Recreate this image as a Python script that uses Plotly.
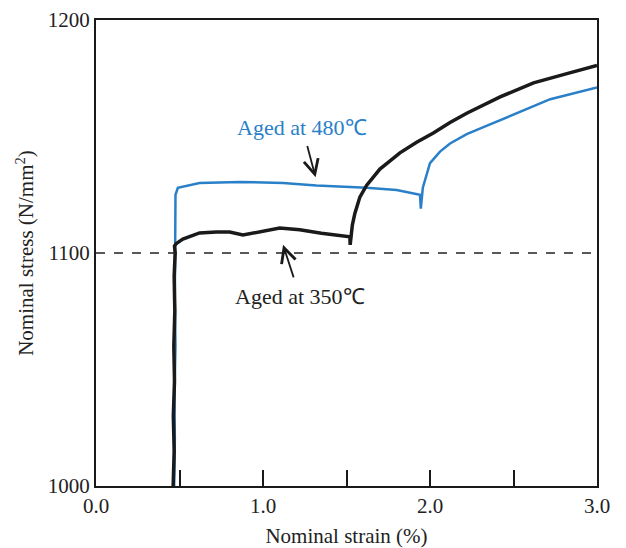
import plotly.graph_objects as go

# Aged at 350°C (black)
strain_350 = [0.462, 0.468, 0.463, 0.470, 0.466, 0.472, 0.468, 0.474, 0.470, 0.480,
              0.52, 0.62, 0.72, 0.80, 0.88, 1.00, 1.10, 1.22, 1.35, 1.52, 1.522,
              1.535, 1.55, 1.58, 1.62, 1.70, 1.82, 1.92, 2.02, 2.12, 2.22, 2.42,
              2.62, 2.82, 3.0]
stress_350 = [1000, 1015, 1030, 1045, 1060, 1075, 1090, 1100, 1103, 1104,
              1106, 1108.6, 1109, 1109, 1107.7, 1109.5, 1110.7, 1110, 1108.5, 1107,
              1103.5, 1112, 1117, 1124, 1129, 1136, 1143, 1147.5, 1151.5, 1156,
              1160, 1167, 1173, 1177, 1180.5]

# Aged at 480°C (blue)
strain_480 = [0.468, 0.472, 0.470, 0.476, 0.472, 0.474, 0.472, 0.476, 0.49,
              0.62, 0.86, 1.12, 1.32, 1.62, 1.80, 1.94, 1.945, 1.950, 1.957,
              2.0, 2.06, 2.12, 2.22, 2.32, 2.52, 2.72, 3.0]
stress_480 = [1000, 1020, 1040, 1060, 1080, 1100, 1115, 1125, 1128,
              1130, 1130.5, 1130, 1129, 1128, 1127, 1125, 1119, 1124, 1128,
              1138.6, 1143.5, 1147, 1151, 1154, 1160, 1166, 1171]

x_tickvals = [0.0, 1.0, 2.0, 3.0]
x_ticktext = ["0.0", "1.0", "2.0", "3.0"]
x_minor_tickvals = [0.5, 1.5, 2.5]
y_tickvals = [1000, 1100, 1200]
y_ticktext = ["1000", "1100", "1200"]

BLUE = "#2a80c8"
BLACK = "#1a1a1a"
TXT = "#222222"
FONT = "Liberation Serif"
FS = 21

fig = go.Figure()
fig.add_trace(go.Scatter(x=strain_480, y=stress_480, mode="lines",
                         line=dict(color=BLUE, width=2.5), showlegend=False))
fig.add_trace(go.Scatter(x=strain_350, y=stress_350, mode="lines",
                         line=dict(color=BLACK, width=3.5), showlegend=False))

fig.add_hline(y=1100, line=dict(color="#222222", width=1.3, dash="dash"))

# labels with arrows
fig.add_annotation(x=1.315, y=1132.5, ax=1.235, ay=1154, axref="x", ayref="y",
                   xref="x", yref="y", text="Aged at 480℃", showarrow=True,
                   arrowhead=5, arrowsize=1.6, arrowwidth=1.8, arrowcolor=BLACK,
                   startstandoff=5,
                   font=dict(family=FONT, size=22, color=BLUE))
fig.add_annotation(x=1.12, y=1103.5, ax=1.22, ay=1081.5, axref="x", ayref="y",
                   xref="x", yref="y", text="Aged at 350℃", showarrow=True,
                   arrowhead=5, arrowsize=1.6, arrowwidth=1.8, arrowcolor=BLACK,
                   startstandoff=5,
                   font=dict(family=FONT, size=22, color=TXT))

fig.update_layout(
    width=626, height=548,
    margin=dict(l=96, r=29, t=20, b=62),
    paper_bgcolor="white", plot_bgcolor="white",
    font=dict(family=FONT, size=FS, color=TXT),
    xaxis=dict(range=[0, 3], tickmode="array", tickvals=x_tickvals,
               ticktext=x_ticktext, automargin=False,
               ticks="inside", ticklen=16, tickwidth=2, tickcolor=BLACK,
               minor=dict(tickmode="array", tickvals=x_minor_tickvals,
                          ticks="inside", ticklen=16, tickwidth=2,
                          tickcolor=BLACK, showgrid=False),
               tickfont=dict(family=FONT, size=FS, color=TXT),
               showgrid=False, zeroline=False, showline=True, linecolor=BLACK,
               linewidth=2, mirror=True,
               title=dict(text="Nominal strain (%)", standoff=14,
                          font=dict(family=FONT, size=FS, color=TXT))),
    yaxis=dict(range=[1000, 1200], tickvals=y_tickvals, ticktext=y_ticktext,
               ticks="", showgrid=False, zeroline=False, showline=True,
               automargin=False,
               tickfont=dict(family=FONT, size=FS, color=TXT),
               linecolor=BLACK, linewidth=2, mirror=True,
               title=dict(text="Nominal stress (N/mm<sup>2</sup>)", standoff=8,
                          font=dict(family=FONT, size=FS, color=TXT))),
)

fig.write_html("out.html")
